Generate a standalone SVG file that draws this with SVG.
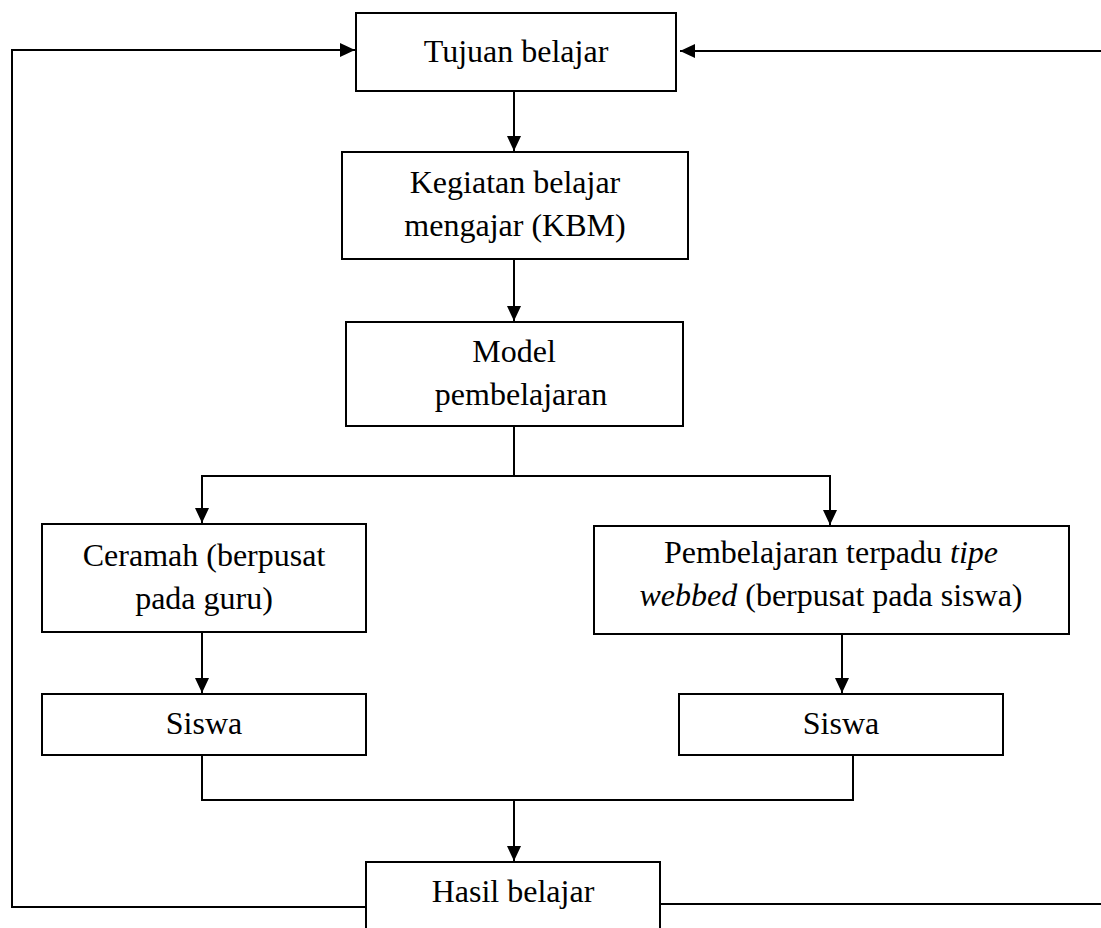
<svg xmlns="http://www.w3.org/2000/svg" width="1101" height="928" viewBox="0 0 1101 928">
<style>
.box{fill:#fff;stroke:#000;stroke-width:2}
.t{font-family:"Liberation Serif","Times New Roman",serif;font-size:32px;fill:#000;text-anchor:middle}
.c{fill:none;stroke:#000;stroke-width:2}
.i{font-style:italic}
</style>
<defs>
<marker id="ah" markerUnits="userSpaceOnUse" markerWidth="15" markerHeight="14" refX="15" refY="7" orient="auto">
<path d="M0,0 L15,7 L0,14 z" fill="#000"/>
</marker>
</defs>
<rect width="1101" height="928" fill="#fff"/>
<g id="connectors">
<path class="c" d="M514,91 V151" marker-end="url(#ah)"/>
<path class="c" d="M514,259 V321" marker-end="url(#ah)"/>
<path class="c" d="M514,426 V476"/>
<path class="c" d="M514,476 H202 V523" marker-end="url(#ah)"/>
<path class="c" d="M514,476 H830 V525" marker-end="url(#ah)"/>
<path class="c" d="M202,632 V693" marker-end="url(#ah)"/>
<path class="c" d="M842,634 V693" marker-end="url(#ah)"/>
<path class="c" d="M202,755 V800 H853 V755"/>
<path class="c" d="M514,800 V861" marker-end="url(#ah)"/>
<path class="c" d="M366,907 H12 V50 H355" marker-end="url(#ah)"/>
<path class="c" d="M660,904 H1106 V51 H680" marker-end="url(#ah)"/>
</g>
<g id="tujuan">
<rect class="box" x="356" y="13" width="320" height="78"/>
<text class="t" x="516" y="62">Tujuan belajar</text>
</g>
<g id="kegiatan">
<rect class="box" x="342" y="152" width="346" height="107"/>
<text class="t" x="515" y="193">Kegiatan belajar</text>
<text class="t" x="515" y="236">mengajar (KBM)</text>
</g>
<g id="model">
<rect class="box" x="346" y="322" width="337" height="104"/>
<text class="t" x="514" y="362">Model</text>
<text class="t" x="521" y="405">pembelajaran</text>
</g>
<g id="ceramah">
<rect class="box" x="42" y="524" width="324" height="108"/>
<text class="t" x="204" y="566">Ceramah (berpusat</text>
<text class="t" x="204" y="609">pada guru)</text>
</g>
<g id="pembelajaran">
<rect class="box" x="594" y="526" width="475" height="108"/>
<text class="t" x="831" y="563">Pembelajaran terpadu <tspan class="i">tipe</tspan></text>
<text class="t" x="831" y="606"><tspan class="i">webbed</tspan> (berpusat pada siswa)</text>
</g>
<g id="siswa1">
<rect class="box" x="42" y="694" width="324" height="61"/>
<text class="t" x="204" y="734">Siswa</text>
</g>
<g id="siswa2">
<rect class="box" x="679" y="694" width="324" height="61"/>
<text class="t" x="841" y="734">Siswa</text>
</g>
<g id="hasil">
<rect class="box" x="366" y="862" width="294" height="72"/>
<text class="t" x="513" y="902">Hasil belajar</text>
</g>
</svg>
